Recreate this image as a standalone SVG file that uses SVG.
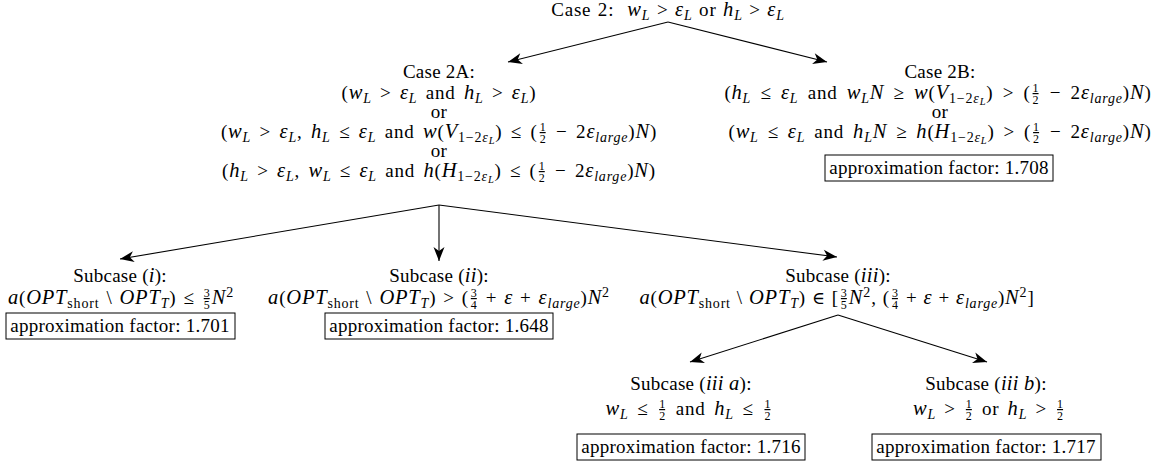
<svg xmlns="http://www.w3.org/2000/svg" width="1163" height="465" viewBox="0 0 1163 465">
<defs>
<style>
.t{font-family:"Liberation Serif","Times New Roman",serif;font-size:19px;letter-spacing:0.25px;fill:#000;text-anchor:middle}
.m{letter-spacing:0.8px}
.i{font-style:italic;font-size:20.5px}
.s{font-size:14px}
.ss{font-size:10.5px}
.f{font-size:12px;letter-spacing:0;font-style:normal}
.u{text-decoration:underline}
.el{font-family:"DejaVu Serif",serif;font-size:17.5px}
.box{fill:#fff;stroke:#000;stroke-width:1}
.c{stroke:#000;stroke-width:1.1;fill:none;marker-end:url(#ah)}
</style>
<marker id="ah" viewBox="-15 -7 16 14" markerWidth="16" markerHeight="14" refX="0" refY="0" orient="auto" markerUnits="userSpaceOnUse">
<path d="M0,0 L-14,-5.5 L-10,0 L-14,5.5 Z" fill="#000"/>
</marker>
</defs>
<rect width="1163" height="465" fill="#fff"/>

<g id="connectors">
<line class="c" x1="668" y1="22" x2="508" y2="62"/>
<line class="c" x1="668" y1="22" x2="827" y2="62"/>
<line class="c" x1="439" y1="205" x2="120" y2="259"/>
<line class="c" x1="439" y1="205" x2="439" y2="261"/>
<line class="c" x1="439" y1="205" x2="837" y2="257"/>
<line class="c" x1="838" y1="315" x2="690" y2="362"/>
<line class="c" x1="838" y1="315" x2="987" y2="362"/>
</g>

<g id="case2">
<text class="t m" x="668" y="16" style="word-spacing:1px">Case 2:&#160; <tspan class="i">w</tspan><tspan class="i s" dy="4">L</tspan><tspan dy="-4"> &gt; </tspan><tspan class="i">ε</tspan><tspan class="i s" dy="4">L</tspan><tspan dy="-4"> or </tspan><tspan class="i">h</tspan><tspan class="i s" dy="4">L</tspan><tspan dy="-4"> &gt; </tspan><tspan class="i">ε</tspan><tspan class="i s" dy="4">L</tspan></text>
</g>

<g id="case2A">
<text class="t" x="439" y="78">Case 2A:</text>
<text class="t m" x="439" y="99" style="word-spacing:2.8px">(<tspan class="i">w</tspan><tspan class="i s" dy="4">L</tspan><tspan dy="-4"> &gt; </tspan><tspan class="i">ε</tspan><tspan class="i s" dy="4">L</tspan><tspan dy="-4"> and </tspan><tspan class="i">h</tspan><tspan class="i s" dy="4">L</tspan><tspan dy="-4"> &gt; </tspan><tspan class="i">ε</tspan><tspan class="i s" dy="4">L</tspan><tspan dy="-4">)</tspan></text>
<text class="t" x="439" y="118">or</text>
<text class="t m" x="439" y="138" style="word-spacing:2.9px">(<tspan class="i">w</tspan><tspan class="i s" dy="4">L</tspan><tspan dy="-4"> &gt; </tspan><tspan class="i">ε</tspan><tspan class="i s" dy="4">L</tspan><tspan dy="-4">, </tspan><tspan class="i">h</tspan><tspan class="i s" dy="4">L</tspan><tspan dy="-4"> ≤ </tspan><tspan class="i">ε</tspan><tspan class="i s" dy="4">L</tspan><tspan dy="-4"> and </tspan><tspan class="i">w</tspan>(<tspan class="i">V</tspan><tspan class="s" dy="4">1−2</tspan><tspan class="i s">ε</tspan><tspan class="i ss" dy="2">L</tspan><tspan dy="-6">) ≤ (</tspan><tspan class="f u" dx="2" dy="-7">1</tspan><tspan class="f" dx="-6" dy="12">2</tspan><tspan dx="2" dy="-5"> − 2</tspan><tspan class="i">ε</tspan><tspan class="i s" dy="4">large</tspan><tspan dy="-4">)</tspan><tspan class="i">N</tspan>)</text>
<text class="t" x="439" y="157">or</text>
<text class="t m" x="439" y="177" style="word-spacing:2.8px">(<tspan class="i">h</tspan><tspan class="i s" dy="4">L</tspan><tspan dy="-4"> &gt; </tspan><tspan class="i">ε</tspan><tspan class="i s" dy="4">L</tspan><tspan dy="-4">, </tspan><tspan class="i">w</tspan><tspan class="i s" dy="4">L</tspan><tspan dy="-4"> ≤ </tspan><tspan class="i">ε</tspan><tspan class="i s" dy="4">L</tspan><tspan dy="-4"> and </tspan><tspan class="i">h</tspan>(<tspan class="i">H</tspan><tspan class="s" dy="4">1−2</tspan><tspan class="i s">ε</tspan><tspan class="i ss" dy="2">L</tspan><tspan dy="-6">) ≤ (</tspan><tspan class="f u" dx="2" dy="-7">1</tspan><tspan class="f" dx="-6" dy="12">2</tspan><tspan dx="2" dy="-5"> − 2</tspan><tspan class="i">ε</tspan><tspan class="i s" dy="4">large</tspan><tspan dy="-4">)</tspan><tspan class="i">N</tspan>)</text>
</g>

<g id="case2B">
<text class="t" x="940" y="78">Case 2B:</text>
<text class="t m" x="938" y="99" style="word-spacing:3.7px">(<tspan class="i">h</tspan><tspan class="i s" dy="4">L</tspan><tspan dy="-4"> ≤ </tspan><tspan class="i">ε</tspan><tspan class="i s" dy="4">L</tspan><tspan dy="-4"> and </tspan><tspan class="i">w</tspan><tspan class="i s" dy="4">L</tspan><tspan class="i" dy="-4">N</tspan> ≥ <tspan class="i">w</tspan>(<tspan class="i">V</tspan><tspan class="s" dy="4">1−2</tspan><tspan class="i s">ε</tspan><tspan class="i ss" dy="2">L</tspan><tspan dy="-6">) &gt; (</tspan><tspan class="f u" dx="2" dy="-7">1</tspan><tspan class="f" dx="-6" dy="12">2</tspan><tspan dx="2" dy="-5"> − 2</tspan><tspan class="i">ε</tspan><tspan class="i s" dy="4">large</tspan><tspan dy="-4">)</tspan><tspan class="i">N</tspan>)</text>
<text class="t" x="940" y="118">or</text>
<text class="t m" x="940" y="138" style="word-spacing:3.4px">(<tspan class="i">w</tspan><tspan class="i s" dy="4">L</tspan><tspan dy="-4"> ≤ </tspan><tspan class="i">ε</tspan><tspan class="i s" dy="4">L</tspan><tspan dy="-4"> and </tspan><tspan class="i">h</tspan><tspan class="i s" dy="4">L</tspan><tspan class="i" dy="-4">N</tspan> ≥ <tspan class="i">h</tspan>(<tspan class="i">H</tspan><tspan class="s" dy="4">1−2</tspan><tspan class="i s">ε</tspan><tspan class="i ss" dy="2">L</tspan><tspan dy="-6">) &gt; (</tspan><tspan class="f u" dx="2" dy="-7">1</tspan><tspan class="f" dx="-6" dy="12">2</tspan><tspan dx="2" dy="-5"> − 2</tspan><tspan class="i">ε</tspan><tspan class="i s" dy="4">large</tspan><tspan dy="-4">)</tspan><tspan class="i">N</tspan>)</text>
<rect class="box" x="825" y="155" width="228" height="26"/>
<text class="t" x="939" y="174">approximation factor: 1.708</text>
</g>

<g id="subcase_i">
<text class="t" x="120" y="282">Subcase (<tspan class="i">i</tspan>):</text>
<text class="t m" x="121" y="304" style="word-spacing:1.5px"><tspan class="i">a</tspan>(<tspan class="i">OPT</tspan><tspan class="s" dy="4">short</tspan><tspan dy="-4"> \ </tspan><tspan class="i">OPT</tspan><tspan class="i s" dy="4">T</tspan><tspan dy="-4">) ≤ </tspan><tspan class="f u" dx="2" dy="-7">3</tspan><tspan class="f" dx="-6" dy="12">5</tspan><tspan class="i" dx="2" dy="-5">N</tspan><tspan class="s" dy="-7">2</tspan></text>
<rect class="box" x="6" y="313" width="229" height="26"/>
<text class="t" x="120" y="332">approximation factor: 1.701</text>
</g>

<g id="subcase_ii">
<text class="t" x="439" y="282">Subcase (<tspan class="i">ii</tspan>):</text>
<text class="t m" x="439" y="304" style="word-spacing:1.4px"><tspan class="i">a</tspan>(<tspan class="i">OPT</tspan><tspan class="s" dy="4">short</tspan><tspan dy="-4"> \ </tspan><tspan class="i">OPT</tspan><tspan class="i s" dy="4">T</tspan><tspan dy="-4">) &gt; (</tspan><tspan class="f u" dx="2" dy="-7">3</tspan><tspan class="f" dx="-6" dy="12">4</tspan><tspan dx="2" dy="-5"> + </tspan><tspan class="i">ε</tspan> + <tspan class="i">ε</tspan><tspan class="i s" dy="4">large</tspan><tspan dy="-4">)</tspan><tspan class="i">N</tspan><tspan class="s" dy="-7">2</tspan></text>
<rect class="box" x="325" y="313" width="228" height="26"/>
<text class="t" x="439" y="332">approximation factor: 1.648</text>
</g>

<g id="subcase_iii">
<text class="t" x="838" y="282">Subcase (<tspan class="i">iii</tspan>):</text>
<text class="t m" x="837" y="304" style="word-spacing:0.5px"><tspan class="i">a</tspan>(<tspan class="i">OPT</tspan><tspan class="s" dy="4">short</tspan><tspan dy="-4"> \ </tspan><tspan class="i">OPT</tspan><tspan class="i s" dy="4">T</tspan><tspan dy="-4">) </tspan><tspan class="el">∈</tspan> [<tspan class="f u" dx="2" dy="-7">3</tspan><tspan class="f" dx="-6" dy="12">5</tspan><tspan class="i" dx="2" dy="-5">N</tspan><tspan class="s" dy="-7">2</tspan><tspan dy="7">, (</tspan><tspan class="f u" dx="2" dy="-7">3</tspan><tspan class="f" dx="-6" dy="12">4</tspan><tspan dx="2" dy="-5"> + </tspan><tspan class="i">ε</tspan> + <tspan class="i">ε</tspan><tspan class="i s" dy="4">large</tspan><tspan dy="-4">)</tspan><tspan class="i">N</tspan><tspan class="s" dy="-7">2</tspan><tspan dy="7">]</tspan></text>
</g>

<g id="subcase_iii_a">
<text class="t" x="691" y="390">Subcase (<tspan class="i">iii a</tspan>):</text>
<text class="t m" x="688" y="415" style="word-spacing:3.1px"><tspan class="i">w</tspan><tspan class="i s" dy="4">L</tspan><tspan dy="-4"> ≤ </tspan><tspan class="f u" dx="2" dy="-7">1</tspan><tspan class="f" dx="-6" dy="12">2</tspan><tspan dx="2" dy="-5"> and </tspan><tspan class="i">h</tspan><tspan class="i s" dy="4">L</tspan><tspan dy="-4"> ≤ </tspan><tspan class="f u" dx="2" dy="-7">1</tspan><tspan class="f" dx="-6" dy="12">2</tspan></text>
<rect class="box" x="577" y="434" width="228" height="26"/>
<text class="t" x="691" y="453">approximation factor: 1.716</text>
</g>

<g id="subcase_iii_b">
<text class="t" x="986" y="390">Subcase (<tspan class="i">iii b</tspan>):</text>
<text class="t m" x="988" y="415" style="word-spacing:2.6px"><tspan class="i">w</tspan><tspan class="i s" dy="4">L</tspan><tspan dy="-4"> &gt; </tspan><tspan class="f u" dx="2" dy="-7">1</tspan><tspan class="f" dx="-6" dy="12">2</tspan><tspan dx="2" dy="-5"> or </tspan><tspan class="i">h</tspan><tspan class="i s" dy="4">L</tspan><tspan dy="-4"> &gt; </tspan><tspan class="f u" dx="2" dy="-7">1</tspan><tspan class="f" dx="-6" dy="12">2</tspan></text>
<rect class="box" x="872" y="434" width="229" height="26"/>
<text class="t" x="986" y="453">approximation factor: 1.717</text>
</g>
</svg>
